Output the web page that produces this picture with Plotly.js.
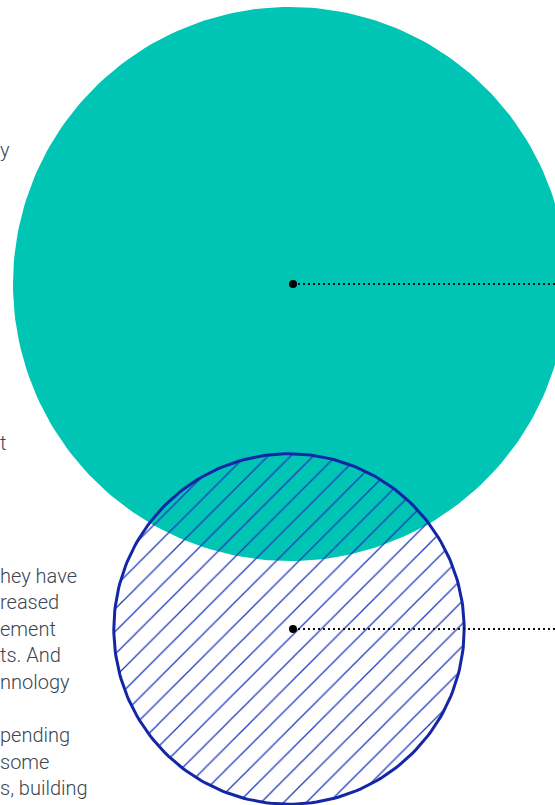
<!DOCTYPE html>
<html>
<head>
<meta charset="utf-8">
<script src="https://cdn.plot.ly/plotly-3.0.1.min.js"></script>
<style>html,body{margin:0;padding:0;background:#fff;overflow:hidden}#chart{width:555px;height:805px}</style>
</head>
<body>
<div id="chart"></div>
<script>
// ---- data ----
const circleNames = ['Total', 'Subset'];
const circleValues = [100, 40];
const circleFill = ['#00c4b4', 'rgba(0,0,0,0)'];
// side text (visible ends of lines running off the left edge)
const textLines = ['y', 't', 'hey have', 'reased', 'ement', 'ts. And', 'nnology', 'pending', 'some', 's, building'];
const textLineRow = [0, 11, 16, 17, 18, 19, 20, 22, 23, 24];

// ---- layout constants ----
const W = 555, H = 805;
const pxPerSqrt = 27.7;
const centersX = [290, 289];
const centersY = [284, 629];
const dotX = [293, 293];
const textTop = 150, lineH = 26.6;

function circlePts(cx, cy, r) {
  const xs = [], ys = [];
  for (let i = 0; i <= 240; i++) {
    const t = 2 * Math.PI * i / 240;
    xs.push(cx + r * Math.cos(t));
    ys.push(cy + r * Math.sin(t));
  }
  return {xs, ys};
}

const traces = [];
circleValues.forEach((v, i) => {
  const r = pxPerSqrt * Math.sqrt(v);
  const p = circlePts(centersX[i], centersY[i], r);
  const t = {
    type: 'scatter', mode: 'lines', x: p.xs, y: p.ys, name: circleNames[i],
    fill: 'toself', fillcolor: circleFill[i], hoverinfo: 'skip', showlegend: false
  };
  if (i === 0) {
    t.line = {width: 0, color: circleFill[i]};
  } else {
    t.line = {width: 3, color: '#1327a6'};
    t.fillpattern = {shape: '/', fgcolor: '#1f3abd', bgcolor: 'rgba(0,0,0,0)', size: 16, solidity: 0.08};
  }
  traces.push(t);
  traces.push({
    type: 'scatter', mode: 'lines', x: [dotX[i], W + 10], y: [centersY[i], centersY[i]],
    line: {color: '#111', width: 2, dash: '2px,3px'}, hoverinfo: 'skip', showlegend: false
  });
  traces.push({
    type: 'scatter', mode: 'markers', x: [dotX[i]], y: [centersY[i]],
    marker: {color: '#000', size: 8}, hoverinfo: 'skip', showlegend: false
  });
});

const annotations = textLines.map((s, i) => ({
  xref: 'paper', yref: 'y', x: 0, y: textTop + textLineRow[i] * lineH,
  xanchor: 'left', yanchor: 'middle', showarrow: false, text: s,
  borderpad: 0, borderwidth: 0, font: {family: 'Roboto', size: 20, color: '#3a4652', weight: 300}
}));

const layout = {
  width: W, height: H,
  margin: {l: 0, r: 0, t: 0, b: 0, pad: 0},
  paper_bgcolor: '#fff', plot_bgcolor: '#fff',
  xaxis: {range: [0, W], visible: false, fixedrange: true},
  yaxis: {range: [H, 0], visible: false, fixedrange: true},
  showlegend: false, annotations: annotations, hovermode: false
};

Plotly.newPlot('chart', traces, layout, {displayModeBar: false, staticPlot: true});
</script>
</body>
</html>
